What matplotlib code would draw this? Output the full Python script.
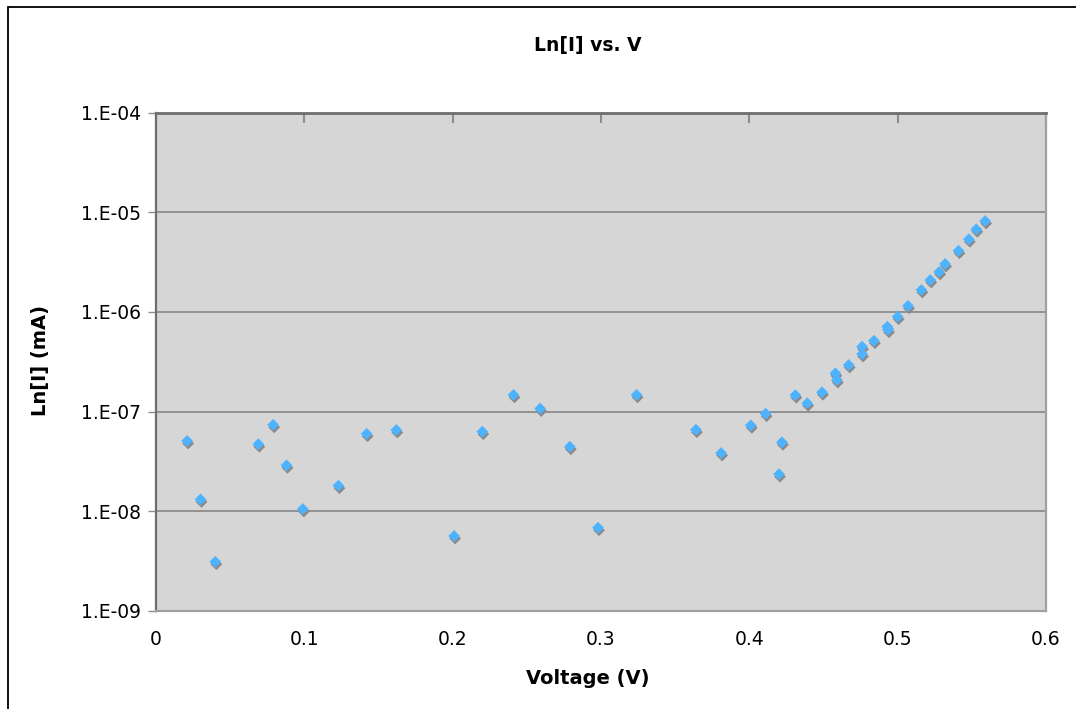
import math
import matplotlib
matplotlib.use("Agg")
import matplotlib.pyplot as plt
import matplotlib.patches as patches
import matplotlib.transforms as mtransforms
from matplotlib.ticker import FixedLocator, FuncFormatter, NullLocator

# measured points (V, I in mA)
voltage = [0.021, 0.030, 0.040, 0.069, 0.079, 0.088, 0.099, 0.123, 0.142, 0.162,
           0.201, 0.220, 0.241, 0.259, 0.279, 0.298, 0.324, 0.364, 0.381, 0.401,
           0.411, 0.420, 0.422, 0.431, 0.439, 0.449, 0.458, 0.459, 0.467, 0.476,
           0.476, 0.484, 0.493, 0.4935, 0.500, 0.507, 0.516, 0.522, 0.528, 0.532,
           0.541, 0.548, 0.553, 0.559]
current = [5.06e-8, 1.31e-8, 3.10e-9, 4.69e-8, 7.36e-8, 2.88e-8, 1.05e-8, 1.80e-8,
           5.98e-8, 6.52e-8, 5.62e-9, 6.27e-8, 1.47e-7, 1.07e-7, 4.43e-8, 6.81e-9,
           1.47e-7, 6.56e-8, 3.83e-8, 7.26e-8, 9.51e-8, 2.35e-8, 4.91e-8, 1.46e-7,
           1.21e-7, 1.56e-7, 2.42e-7, 2.07e-7, 2.93e-7, 4.48e-7, 3.78e-7, 5.14e-7,
           7.10e-7, 6.62e-7, 8.95e-7, 1.15e-6, 1.66e-6, 2.09e-6, 2.52e-6, 3.03e-6,
           4.11e-6, 5.36e-6, 6.75e-6, 8.18e-6]

x_ticks = [0, 0.1, 0.2, 0.3, 0.4, 0.5, 0.6]
y_ticks = [1e-9, 1e-8, 1e-7, 1e-6, 1e-5, 1e-4]


def excel_sci(v, pos):
    return "1.E%03d" % round(math.log10(v))


plt.rcParams['font.family'] = ['DejaVu Sans']

fig = plt.figure(figsize=(10.76, 7.09), dpi=100)
ax = fig.add_axes([156 / 1076, 1 - 610.7 / 709, 890 / 1076, 498 / 709])
ax.set_facecolor("#d6d6d6")

# gray drop shadow, then the blue diamonds
shadow = mtransforms.offset_copy(ax.transData, fig=fig, x=1.0, y=-2.5, units="dots")
ax.scatter(voltage, current, marker="D", s=36, color="#8a8a8a", edgecolors="none",
           transform=shadow, zorder=3)
ax.scatter(voltage, current, marker="D", s=36, color="#4db3ff", edgecolors="none",
           zorder=4)

ax.set_yscale("log")
ax.set_xlim(0, 0.6)
ax.set_ylim(1e-9, 1e-4)
ax.yaxis.set_major_locator(FixedLocator(y_ticks))
ax.yaxis.set_minor_locator(NullLocator())
ax.yaxis.set_major_formatter(FuncFormatter(excel_sci))
ax.xaxis.set_major_locator(FixedLocator(x_ticks))
ax.xaxis.set_major_formatter(FuncFormatter(lambda v, p: "0" if v == 0 else "%g" % v))

ax.grid(axis="y", color="#8c8c8c", linewidth=1.3)
ax.set_axisbelow(True)

ax.tick_params(axis="y", direction="out", length=6, width=1, color="#8c8c8c",
               labelsize=13.5, pad=5)
ax.tick_params(axis="x", which="major", bottom=False, top=True, direction="in",
               length=7, width=1.5, color="#8c8c8c", labelbottom=True, labeltop=False,
               labelsize=13.5, pad=14)

ax.spines["top"].set_color("#6e6e6e")
ax.spines["top"].set_linewidth(2)
ax.spines["left"].set_color("#6e6e6e")
ax.spines["left"].set_linewidth(1.6)
ax.spines["right"].set_color("#a0a0a0")
ax.spines["right"].set_linewidth(1.6)
ax.spines["bottom"].set_color("#a0a0a0")
ax.spines["bottom"].set_linewidth(1.6)

ax.set_xlabel("Voltage (V)", fontsize=14, fontweight="bold")
ax.set_ylabel("Ln[I] (mA)", fontsize=14, fontweight="bold")
ax.xaxis.set_label_coords((588 - 156) / 890, (610.7 - 669) / 498)
ax.yaxis.set_label_coords((50 - 156) / 890, (610.7 - 360) / 498)
fig.text(588 / 1076, 1 - 45 / 709, "Ln[I] vs. V", fontsize=13.5, fontweight="bold",
         ha="center", va="center")

# outer chart border (left and top visible)
fig.patches.append(patches.Rectangle((8 / 1076, -0.05), 1.1, 1 - 7 / 709 + 0.05,
                                     transform=fig.transFigure, fill=False,
                                     edgecolor="black", linewidth=1.3))

fig.savefig("out.png", dpi=100)
